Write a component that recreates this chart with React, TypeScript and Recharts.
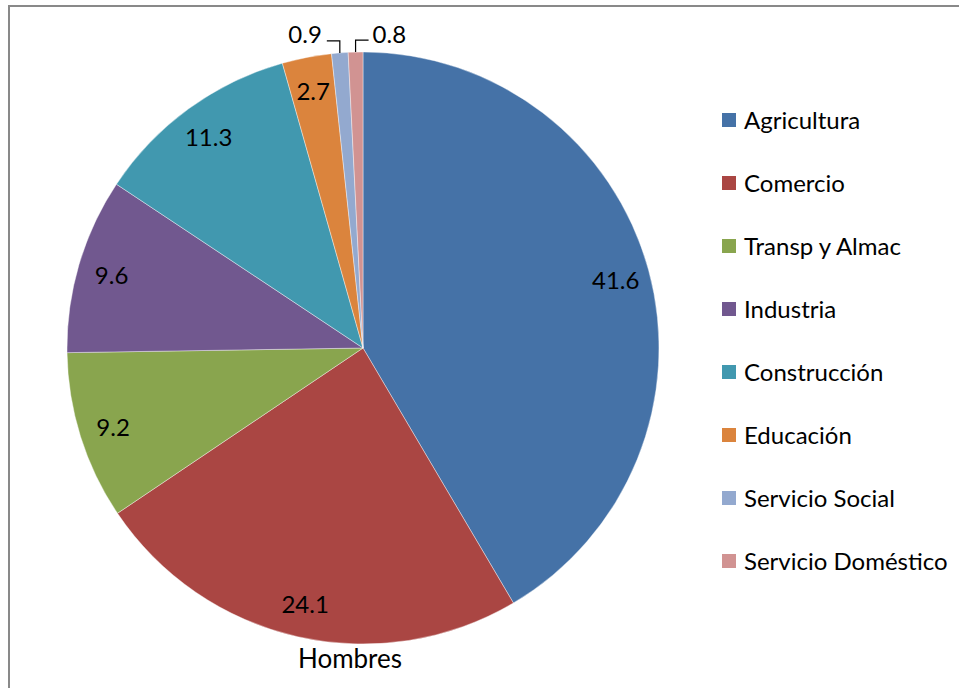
import { Legend, Pie, PieChart, Cell } from 'recharts';

const sectors = [
  'Agricultura',
  'Comercio',
  'Transp y Almac',
  'Industria',
  'Construcción',
  'Educación',
  'Servicio Social',
  'Servicio Doméstico',
];
const shares = [41.6, 24.1, 9.2, 9.6, 11.3, 2.7, 0.9, 0.8];
const colors = [
  '#4572A7',
  '#AA4643',
  '#89A54E',
  '#71588F',
  '#4198AF',
  '#DB843D',
  '#93A9CF',
  '#D19392',
];
const title = 'Hombres';

const data = sectors.map((name, i) => ({ name, value: shares[i] }));

const FONT = 'Lato, "Open Sans", sans-serif';
const RAD = Math.PI / 180;

function renderLabel(props: any) {
  const { cx, cy, midAngle, outerRadius, value, percent } = props;
  const cos = Math.cos(-midAngle * RAD);
  const sin = Math.sin(-midAngle * RAD);
  if (percent < 0.02) {
    // tiny slices: label outside with an elbow leader line
    const x0 = cx + outerRadius * cos;
    const y0 = cy + outerRadius * sin;
    const y1 = y0 - 12;
    const left = x0 < cx - 15;
    const x1 = left ? x0 - 13 : x0 + 13;
    return (
      <g>
        <polyline
          points={`${x0},${y0} ${x0},${y1} ${x1},${y1}`}
          fill="none"
          stroke="#000"
          strokeWidth={1.2}
        />
        <text
          x={left ? x1 - 5 : x1 + 4}
          y={y1 - 7}
          textAnchor={left ? 'end' : 'start'}
          dominantBaseline="central"
          fill="#000"
          fontSize={24}
          fontFamily={FONT}
        >
          {value}
        </text>
      </g>
    );
  }
  const r = outerRadius * 0.885;
  return (
    <text
      x={cx + r * cos}
      y={cy + r * sin}
      textAnchor="middle"
      dominantBaseline="central"
      fill="#000"
      fontSize={24}
      fontFamily={FONT}
    >
      {value}
    </text>
  );
}

function renderLegend() {
  return (
    <div style={{ fontFamily: FONT, fontSize: 24, color: '#000' }}>
      {sectors.map((name, i) => (
        <div
          key={name}
          style={{ display: 'flex', alignItems: 'center', height: 63 }}
        >
          <span
            style={{
              width: 14,
              height: 14,
              background: colors[i],
              marginRight: 8,
              display: 'inline-block',
            }}
          />
          <span style={{ whiteSpace: 'nowrap' }}>{name}</span>
        </div>
      ))}
    </div>
  );
}

export default function App() {
  return (
    <div
      style={{
        position: 'fixed',
        left: 0,
        top: 0,
        width: 959,
        height: 688,
        background: '#fff',
        overflow: 'hidden',
      }}
    >
      <div
        style={{
          position: 'absolute',
          left: 8,
          top: 5,
          width: 1000,
          height: 720,
          borderLeft: '2px solid #898989',
          borderTop: '2px solid #898989',
        }}
      />
      <PieChart
        width={959}
        height={688}
        margin={{ top: 0, right: 0, bottom: 0, left: 0 }}
        style={{ position: 'absolute', left: 0, top: 0 }}
      >
        <Pie
          data={data}
          dataKey="value"
          nameKey="name"
          cx={363}
          cy={348}
          outerRadius={296}
          startAngle={90}
          endAngle={-270}
          stroke="#fff"
          strokeWidth={0.4}
          label={renderLabel}
          labelLine={false}
          isAnimationActive={false}
        >
          {data.map((d, i) => (
            <Cell key={d.name} fill={colors[i]} />
          ))}
        </Pie>
        <Legend
          layout="vertical"
          content={renderLegend}
          wrapperStyle={{ position: 'absolute', left: 722, top: 88, width: 237 }}
        />
      </PieChart>
      <div
        style={{
          position: 'absolute',
          left: 250,
          width: 200,
          top: 642,
          textAlign: 'center',
          fontFamily: FONT,
          fontSize: 26,
          color: '#000',
          lineHeight: '32px',
        }}
      >
        {title}
      </div>
    </div>
  );
}
